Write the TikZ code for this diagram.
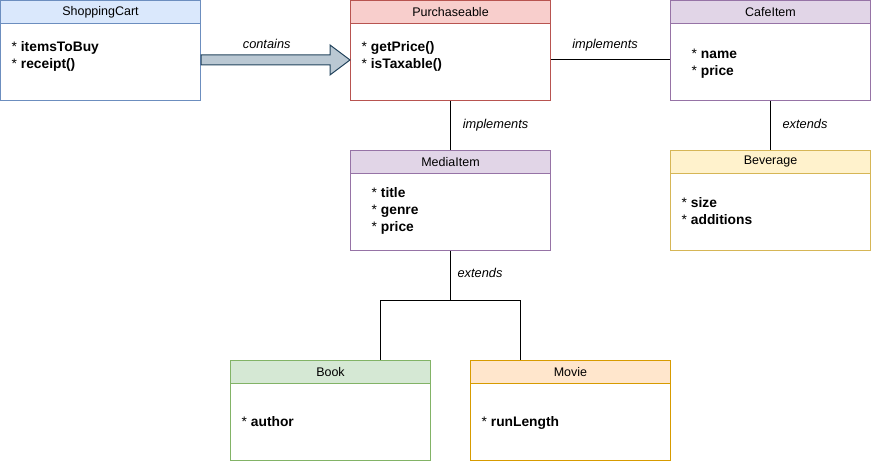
\documentclass[tikz,border=0pt]{standalone}
\usepackage{fontspec}
\setmainfont{Liberation Sans}
\usetikzlibrary{calc}
\definecolor{bluef}{HTML}{DAE8FC}\definecolor{blued}{HTML}{6C8EBF}
\definecolor{redf}{HTML}{F8CECC}\definecolor{redd}{HTML}{B85450}
\definecolor{purf}{HTML}{E1D5E7}\definecolor{purd}{HTML}{9673A6}
\definecolor{yelf}{HTML}{FFF2CC}\definecolor{yeld}{HTML}{D6B656}
\definecolor{grnf}{HTML}{D5E8D4}\definecolor{grnd}{HTML}{82B366}
\definecolor{orf}{HTML}{FFE6CC}\definecolor{ord}{HTML}{D79B00}
\definecolor{arrf}{HTML}{BAC8D3}\definecolor{arrd}{HTML}{23445D}
\begin{document}
\begin{tikzpicture}[x=1pt,y=-1pt,
  umlbox/.style={draw=#1, line width=1pt, minimum width=200pt, minimum height=100pt, inner sep=0pt, fill=white},
  hdr/.style 2 args={draw=#2, fill=#1, line width=1pt, minimum width=200pt, minimum height=23pt, inner sep=0pt, anchor=north, font=\fontsize{12.5}{14}\selectfont},
  item/.style={anchor=base west, inner sep=0pt, font=\fontsize{13.8}{16}\selectfont},
  lbl/.style={anchor=base, inner sep=0pt, font=\fontsize{12.8}{15}\selectfont\itshape},
  conn/.style={draw=black, line width=1pt},
  blockarrow/.style={draw=arrd, fill=arrf, line width=1pt, line join=miter}]
\useasboundingbox (0,0) rectangle (871,462);

% boxes
\node[umlbox=blued] (cart) at (100.5,50.5) {};
\node[hdr={bluef}{blued}] (cartH) at (cart.north) {\raisebox{-1pt}{ShoppingCart}};
\node[umlbox=redd] (purch) at (450.5,50.5) {};
\node[hdr={redf}{redd}] (purchH) at (purch.north) {\raisebox{-1pt}{Purchaseable}};
\node[umlbox=purd] (cafe) at (770.5,50.5) {};
\node[hdr={purf}{purd}] (cafeH) at (cafe.north) {\raisebox{-1pt}{CafeItem}};
\node[umlbox=purd] (media) at (450.5,200.5) {};
\node[hdr={purf}{purd}] (mediaH) at (media.north) {\raisebox{-1pt}{MediaItem}};
\node[umlbox=yeld] (bev) at (770.5,200.5) {};
\node[hdr={yelf}{yeld}] (bevH) at (bev.north) {\raisebox{-1pt}{Beverage}};
\node[umlbox=grnd] (book) at (330.5,410.5) {};
\node[hdr={grnf}{grnd}] (bookH) at (book.north) {\raisebox{-1pt}{Book}};
\node[umlbox=ord] (movie) at (570.5,410.5) {};
\node[hdr={orf}{ord}] (movieH) at (movie.north) {\raisebox{-1pt}{Movie}};

% items
\node[item] (cart1) at ($(cart.north west)+(11.5,52)$) {* \textbf{itemsToBuy}};
\node[item] (cart2) at ($(cart.north west)+(11.5,69)$) {* \textbf{receipt()}};
\node[item] (purch1) at ($(purch.north west)+(11.5,52)$) {* \textbf{getPrice()}};
\node[item] (purch2) at ($(purch.north west)+(11.5,69)$) {* \textbf{isTaxable()}};
\node[item] (cafe1) at ($(cafe.north west)+(21.5,58.5)$) {* \textbf{name}};
\node[item] (cafe2) at ($(cafe.north west)+(21.5,75.5)$) {* \textbf{price}};
\node[item] (media1) at ($(media.north west)+(21.5,48)$) {* \textbf{title}};
\node[item] (media2) at ($(media.north west)+(21.5,65)$) {* \textbf{genre}};
\node[item] (media3) at ($(media.north west)+(21.5,82)$) {* \textbf{price}};
\node[item] (bev1) at ($(bev.north west)+(11.5,58)$) {* \textbf{size}};
\node[item] (bev2) at ($(bev.north west)+(11.5,75)$) {* \textbf{additions}};
\node[item] (book1) at ($(book.north west)+(11.5,67)$) {* \textbf{author}};
\node[item] (movie1) at ($(movie.north west)+(11.5,67)$) {* \textbf{runLength}};

% block arrow
\draw[blockarrow] ($(cart.east)+(0,4.5)$) -- ($(purch.west)+(-20,4.5)$) -- ($(purch.west)+(-20,-5.5)$)
  -- ($(purch.west)+(0,9.5)$) -- ($(purch.west)+(-20,24.5)$) -- ($(purch.west)+(-20,14.5)$)
  -- ($(cart.east)+(0,14.5)$) -- cycle;

% connectors
\draw[conn] ($(purch.east)+(0,9.5)$) -- ($(cafe.west)+(0,9.5)$);
\draw[conn] (purch.south) -- (media.north);
\draw[conn] (cafe.south) -- (bev.north);
\coordinate (split) at ($(media.south)+(0,50)$);
\draw[conn] (media.south) -- (split);
\draw[conn] (split) -| ($(book.north)+(50,0)$);
\draw[conn] (split) -| ($(movie.north)+(-50,0)$);

% labels
\node[lbl] (lcont) at (266.7,48.5) {contains};
\node[lbl] (limp1) at (605,48.5) {implements};
\node[lbl] (limp2) at (495.5,128.5) {implements};
\node[lbl] (lext1) at (805,128.5) {extends};
\node[lbl] (lext2) at (480,278) {extends};
\end{tikzpicture}
\end{document}
